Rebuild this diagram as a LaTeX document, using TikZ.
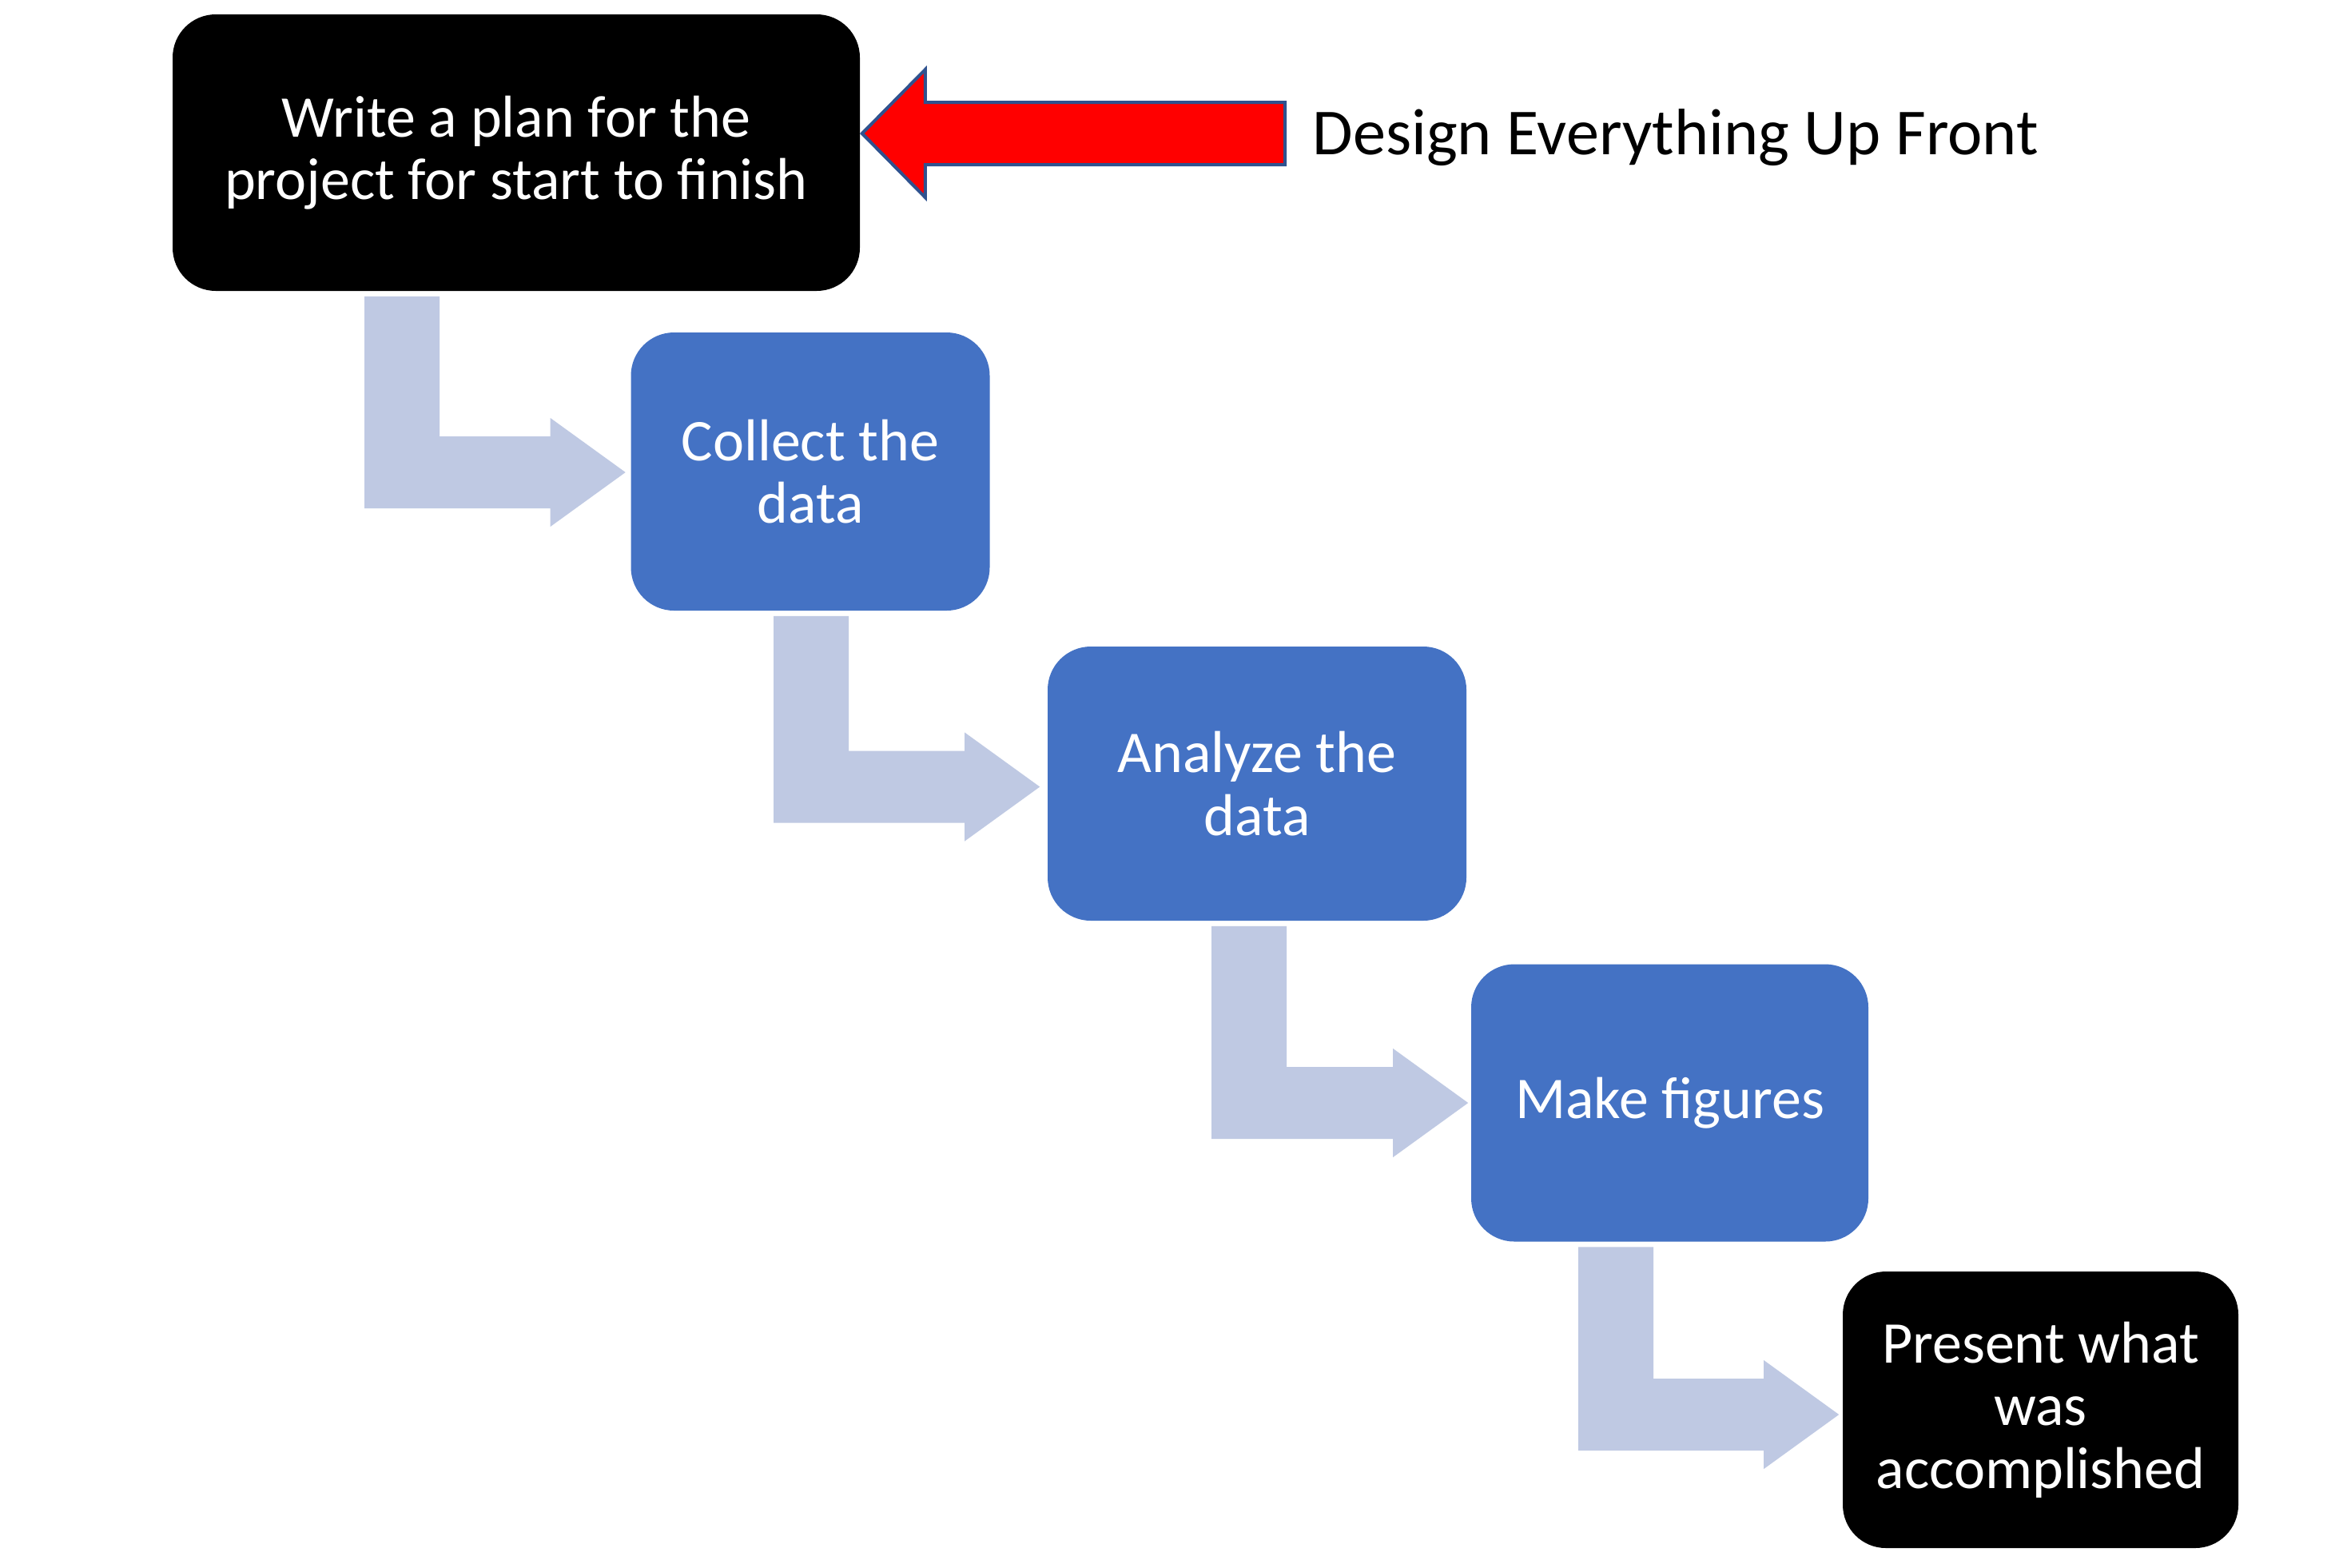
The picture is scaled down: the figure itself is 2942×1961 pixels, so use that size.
\documentclass[tikz,border=0pt]{standalone}
\usepackage{fontspec}
\setmainfont{Carlito}
\usetikzlibrary{calc}
\definecolor{boxblue}{HTML}{4472C4}
\definecolor{connblue}{HTML}{BFC9E3}
\definecolor{outlineblue}{HTML}{2F528F}
\newcommand{\bentconn}[5]{%
  \coordinate (tmpS) at ($(#1,0 |- #2.south)+(0,6)$);
  \coordinate (tmpT) at ($(#3.west)+(-#4,#5)$);
  \fill[conn] (tmpS) -- ++(94,0) -- ($(tmpS |- tmpT)+(94,-45)$) -- ($(tmpT)+(-94,-45)$)
    -- ($(tmpT)+(-94,-68)$) -- (tmpT) -- ($(tmpT)+(-94,68)$) -- ($(tmpT)+(-94,45)$)
    -- ($(tmpS |- tmpT)+(0,45)$) -- cycle;
}
\begin{document}
\begin{tikzpicture}[x=0.25pt,y=-0.25pt,
  stepbox/.style={rectangle, rounded corners=13.5pt, inner sep=0pt, align=center,
    text=white, font=\fontsize{18.5pt}{19.6pt}\selectfont},
  blackbox/.style={stepbox, fill=black},
  bluebox/.style={stepbox, fill=boxblue},
  conn/.style={fill=connblue},
  redarrow/.style={fill=red, draw=outlineblue, line width=1pt, line join=miter},
  lbltext/.style={inner sep=0pt, font=\fontsize{20.55pt}{24pt}\selectfont, text=black}]
\useasboundingbox (0,0) rectangle (2942,1961);
\fill[white] (0,0) rectangle (2942,1961);

\node[blackbox, minimum width=215pt, minimum height=86.5pt] (a) at (646,191)
  {Write a plan for the\\project for start to finish};
\node[bluebox, minimum width=112.25pt, minimum height=87pt] (b) at (1014,590)
  {Collect the\\data};
\node[bluebox, minimum width=131pt, minimum height=85.75pt] (c) at (1573,980.5)
  {Analyze the\\data};
\node[bluebox, minimum width=124.25pt, minimum height=86.75pt] (d) at (2089.5,1380)
  {Make figures};
\node[blackbox, minimum width=123.75pt, minimum height=86.5pt] (e) at (2553.5,1764)
  {Present what\\was\\accomplished};

\bentconn{456}{a}{b}{6}{1}
\bentconn{968}{b}{c}{9}{4}
\bentconn{1516}{c}{d}{3}{0}
\bentconn{1975}{d}{e}{4}{6}

\node[lbltext, anchor=base west] (lbl) at (1642,193) {Design Everything Up Front};
\coordinate (rt) at ($(a.east)+(2,-24)$);
\coordinate (tail) at ($(lbl.west |- rt)+(-34,0)$);
\draw[redarrow] (rt) -- ($(rt)+(79,-80)$) -- ($(rt)+(79,-39)$) -- ($(tail)+(0,-39)$)
  -- ($(tail)+(0,39)$) -- ($(rt)+(79,39)$) -- ($(rt)+(79,80)$) -- cycle;
\end{tikzpicture}
\end{document}
